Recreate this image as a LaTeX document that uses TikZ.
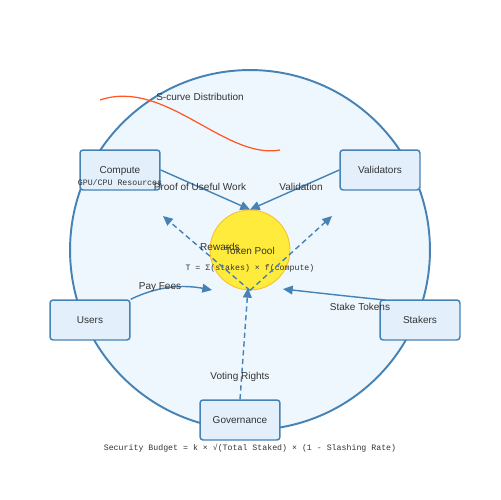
\documentclass[tikz,border=0pt]{standalone}
\usepackage{fontspec}
\setmainfont{Liberation Sans}
\setmonofont{Liberation Mono}
\usetikzlibrary{arrows.meta,positioning}

\definecolor{steel}{HTML}{4682B4}
\definecolor{ringfill}{HTML}{EEF7FE}
\definecolor{boxfill}{HTML}{E3F0FC}
\definecolor{poolfill}{HTML}{FFEB3B}
\definecolor{poolline}{HTML}{FBC02D}
\definecolor{scurve}{HTML}{FF5722}
\definecolor{txt}{HTML}{333333}

\begin{document}
\begin{tikzpicture}[x=0.02cm,y=-0.02cm,
  box/.style={draw=steel,fill=boxfill,line width=0.85pt,rounded corners=1.8pt,minimum width=1.6cm,minimum height=0.8cm,inner sep=0pt,text=txt,font=\fontsize{5.7}{6.8}\selectfont},
  lbl/.style={text=txt,inner sep=0pt,font=\fontsize{5.7}{6.8}\selectfont},
  code/.style={text=txt,inner sep=0pt,font=\ttfamily\fontsize{4.7}{5.6}\selectfont},
  flow/.style={draw=steel,line width=0.8pt,-{Triangle[length=5.5pt,width=5pt]}},
  dflow/.style={flow,dash pattern=on 3pt off 2pt}]

\useasboundingbox (0,0) rectangle (500,500);

% ring and pool
\node[circle,draw=steel,fill=ringfill,line width=1.1pt,minimum size=7.2cm,inner sep=0pt] (ring) at (250,250) {};
\node[circle,draw=poolline,fill=poolfill,line width=0.5pt,minimum size=1.6cm,inner sep=0pt] (pool) at (250,250) {};
\node[lbl] (pooltxt) at (250,251) {Token Pool};
\node[code] (poolf) at (250,268) {T = Σ(stakes) × f(compute)};

% s-curve
\coordinate (s0) at (100,100);
\coordinate (s1) at (280,150);
\draw[scurve,line width=0.7pt] (s0) .. controls (165,78) and (225,160) .. (s1);
\node[lbl] (slbl) at (200,97) {S-curve Distribution};

% actors
\node[box] (compute) at (120,170) {};
\node[lbl] (comptxt) at (120,171) {Compute};
\node[code] (gpu) at (120,183) {GPU/CPU Resources};
\node[box] (valid) at (380,170) {Validators};
\node[box] (users) at (90,320) {Users};
\node[box] (stakers) at (420,320) {Stakers};
\node[box] (gov) at (240,420) {Governance};

% free ends
\coordinate (fee) at (212,290);
\coordinate (stake) at (283,289);
\coordinate (rwl) at (163,216);
\coordinate (rwr) at (332,216);
\coordinate (vote) at (248,288);

\draw[flow] (compute.east) -- (pool.north);
\draw[flow] (valid.west) -- (pool.north);
\draw[flow] (users.north east) .. controls (160,285) and (185,285) .. (fee);
\draw[flow] (385,300) .. controls (345,296) and (310,292) .. (stake);
\draw[dflow] (pool.south) -- (rwl);
\draw[dflow] (pool.south) -- (rwr);
\draw[dflow] (gov.north) -- (vote);

% labels
\node[lbl] (puw) at (200,187) {Proof of Useful Work};
\node[lbl] (vlbl) at (301,187) {Validation};
\node[lbl] (flbl) at (160,287) {Pay Fees};
\node[lbl] (stlbl) at (360,307) {Stake Tokens};
\node[lbl] (rlbl) at (220,247) {Rewards};
\node[lbl] (vrlbl) at (240,377) {Voting Rights};
\node[code] (budget) at (250,448) {Security Budget = k × √(Total Staked) × (1 - Slashing Rate)};
\end{tikzpicture}
\end{document}
